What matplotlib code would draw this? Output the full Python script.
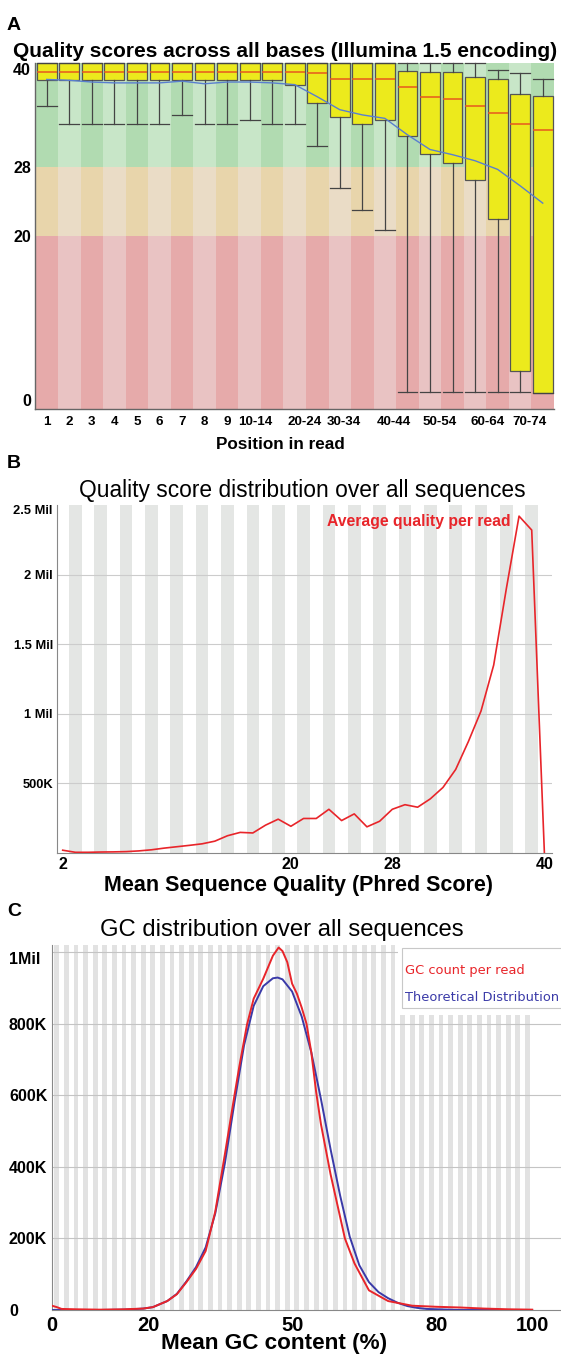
import numpy as np
import matplotlib.pyplot as plt
from matplotlib.patches import Rectangle

plt.rcParams['font.family'] = ['Liberation Sans', 'DejaVu Sans']

W, H = 561, 1355

# --- Panel A: per-base quality boxes ---
base_groups = ['1', '2', '3', '4', '5', '6', '7', '8', '9', '10-14', '15-19',
               '20-24', '25-29', '30-34', '35-39', '40-44', '45-49', '50-54',
               '55-59', '60-64', '65-69', '70-74', '75-76']
shown_groups = ['1', '2', '3', '4', '5', '6', '7', '8', '9', '10-14', '20-24',
                '30-34', '40-44', '50-54', '60-64', '70-74']
# the printed group labels sit a little off the box centres in the original
shown_shift = [0, 0, 0, 0, 0, 0, 0, 0, 0, 0.23, 0.45, 0.18, 0.39, 0.43,
               0.56, 0.42]
q_p90 = [40, 40, 40, 40, 40, 40, 40, 40, 40, 40, 40, 40, 40, 40, 40, 40,
         40, 40, 40, 40, 39.2, 38.8, 38.1]
q_upper = [40, 40, 40, 40, 40, 40, 40, 40, 40, 40, 40, 40, 40, 40, 40, 40,
           39.1, 39.0, 39.0, 38.4, 38.1, 36.4, 36.2]
q_median = [39, 39, 39, 39, 39, 39, 39, 39, 39, 39, 39, 39.0, 38.9, 38.1,
            38.1, 38.1, 37.2, 36.1, 35.8, 35.0, 34.2, 33.0, 32.2]
q_lower = [38, 38, 38, 38, 38, 38, 38, 38, 38, 38, 38, 37.5, 35.4, 33.8,
           33.0, 33.4, 31.6, 29.5, 28.4, 26.5, 22.0, 4.4, 1.9]
q_p10 = [35, 33, 33, 33, 33, 33, 34, 33, 33, 33.4, 33, 33, 30.4, 25.5,
         23.0, 20.7, 2, 2, 2, 2, 2, 2, 1.9]
q_mean = [38.1, 38.0, 37.8, 37.7, 37.7, 37.7, 37.9, 37.6, 37.8, 37.8, 37.7,
          37.5, 36.1, 34.6, 34.0, 33.6, 31.7, 30.0, 29.4, 28.7, 27.7, 25.8, 23.8]

# --- Panel B: mean sequence quality distribution ---
phred = list(range(2, 41))
reads_per_q = [20e3, 5e3, 5e3, 7e3, 8e3, 10e3, 15e3, 23e3, 35e3, 45e3, 55e3,
               66e3, 85e3, 124e3, 148e3, 144e3, 200e3, 243e3, 192e3, 248e3,
               248e3, 314e3, 233e3, 281e3, 188e3, 228e3, 314e3, 347e3, 329e3,
               389e3, 471e3, 600e3, 800e3, 1020e3, 1350e3, 1900e3, 2420e3,
               2320e3, 0]

# --- Panel C: GC content ---
gc_obs_x = [0, 1, 2, 5, 10, 15, 19, 21, 24, 26, 28, 30, 32, 34, 36, 38, 39,
            40.6, 42, 44, 46, 47.2, 48, 49, 50, 51, 52, 53, 54, 55, 56, 58,
            60, 61, 63, 66, 70, 75, 80, 85, 90, 95, 100]
gc_obs = [12e3, 8e3, 3e3, 2e3, 1e3, 2e3, 4e3, 8e3, 25e3, 44e3, 78e3, 115e3,
          165e3, 275e3, 435e3, 600e3, 680e3, 797e3, 870e3, 926e3, 990e3,
          1013e3, 1003e3, 972e3, 912e3, 884e3, 845e3, 800e3, 720e3, 610e3,
          520e3, 380e3, 260e3, 200e3, 130e3, 55e3, 25e3, 12e3, 9e3, 7e3, 4e3,
          2e3, 1e3]
gc_theo_x = [0, 10, 15, 19, 21, 24, 26, 28, 30, 32, 34, 36, 38, 40, 42, 44,
             46, 47, 48, 50, 52, 54, 56, 58, 60, 62, 64, 66, 68, 70, 72, 74,
             76, 78, 85, 100]
gc_theo = [0, 0, 1e3, 4e3, 8e3, 25e3, 45e3, 80e3, 120e3, 175e3, 270e3,
           410e3, 580e3, 740e3, 850e3, 905e3, 927e3, 929e3, 924e3, 890e3,
           820e3, 720e3, 590e3, 450e3, 320e3, 205e3, 125e3, 78e3, 50e3, 33e3,
           20e3, 11e3, 6e3, 3e3, 0, 0]

fig = plt.figure(figsize=(W / 100, H / 100), dpi=100)


def px_axes(left, top, right, bottom):
    return fig.add_axes([left / W, 1 - bottom / H, (right - left) / W, (bottom - top) / H])


def ftext(x, y, s, **kw):
    fig.text(x / W, 1 - y / H, s, **kw)


# ===================== A =====================
axA = px_axes(35, 63, 554, 409)
pos = np.arange(1, len(base_groups) + 1)
zones = [(0, 20, '#e6aaaa', '#e9c3c3'),
         (20, 28, '#e8d5ab', '#eadcc6'),
         (28, 40, '#b1dbb1', '#c8e6c8')]
for i in pos:
    for lo, hi, dark, light in zones:
        axA.add_patch(Rectangle((i - 0.5, lo), 1, hi - lo,
                                color=dark if i % 2 == 1 else light,
                                lw=0, zorder=0))
stats = [dict(med=m, q1=l, q3=u, whislo=w1, whishi=w2)
         for m, l, u, w1, w2 in zip(q_median, q_lower, q_upper, q_p10, q_p90)]
bp = axA.bxp(stats, positions=pos, widths=0.88, capwidths=0.88,
             patch_artist=True, showfliers=False, manage_ticks=False,
             boxprops=dict(facecolor='#ecea1c', edgecolor='#555555', lw=0.9),
             medianprops=dict(color='#e8581e', lw=1.1),
             whiskerprops=dict(color='#444444', lw=0.9),
             capprops=dict(color='#444444', lw=0.9))
for key in ('boxes', 'medians', 'whiskers', 'caps'):
    for art in bp[key]:
        art.set_clip_on(False)
        art.set_zorder(3)
axA.plot(pos, q_mean, color='#5a7fcf', lw=1.0, zorder=4)
axA.set_xlim(0.48, len(base_groups) + 0.5)
axA.set_ylim(0, 40)
axA.set_yticks([0, 20, 28, 40])
axA.set_yticklabels(['0', '20', '28', '40'], fontsize=11.5, fontweight='bold')
ylabs = axA.get_yticklabels()
ylabs[0].set_va('bottom')
ylabs[-1].set_va('top')
tick_pos = [base_groups.index(g) + 1 + d for g, d in zip(shown_groups, shown_shift)]
axA.set_xticks(tick_pos)
axA.set_xticklabels(shown_groups, fontsize=9.6, fontweight='bold')
axA.tick_params(length=0, pad=3)
axA.tick_params(axis='x', pad=5)
for s in ('top', 'right'):
    axA.spines[s].set_visible(False)
for s in ('left', 'bottom'):
    axA.spines[s].set_color('#666666')
    axA.spines[s].set_linewidth(1.0)

ftext(7, 30, 'A', fontsize=14, fontweight='bold', va='baseline')
ftext(285, 57, 'Quality scores across all bases (Illumina 1.5 encoding)',
      fontsize=15.0, fontweight='bold', ha='center', va='baseline')
ftext(280, 449, 'Position in read', fontsize=12.3, fontweight='bold',
      ha='center', va='baseline')

# ===================== B =====================
axB = px_axes(57, 505, 552, 853)
for q in phred:
    if q % 2 == 1:
        axB.axvspan(q - 0.5, q + 0.5, color='#e4e6e4', lw=0, zorder=0)
for yv in [500e3, 1e6, 1.5e6, 2e6]:
    axB.axhline(yv, color='#cccccc', lw=0.8, zorder=1)
axB.plot(phred, reads_per_q, color='#e8252a', lw=1.2, zorder=3)
axB.set_xlim(1.55, 40.6)
axB.set_ylim(0, 2.5e6)
axB.set_xticks([2, 20, 28, 40])
axB.set_xticklabels(['2', '20', '28', '40'], fontsize=11.5, fontweight='bold')
axB.set_yticks([500e3, 1e6, 1.5e6, 2e6, 2.5e6])
axB.set_yticklabels(['500K', '1 Mil', '1.5 Mil', '2 Mil', '2.5 Mil'],
                    fontsize=9.3, fontweight='bold')
axB.get_yticklabels()[-1].set_va('top')
axB.tick_params(length=0, pad=3)
for s in ('top', 'right'):
    axB.spines[s].set_visible(False)
for s in ('left', 'bottom'):
    axB.spines[s].set_color('#888888')
axB.text(37.3, 2.385e6, 'Average quality per read', color='#e8252a',
         fontsize=11.3, fontweight='bold', ha='right', va='center', zorder=4)

ftext(7, 468, 'B', fontsize=14, fontweight='bold', va='baseline')
ftext(302, 497, 'Quality score distribution over all sequences',
      fontsize=16.4, ha='center', va='baseline')
ftext(298, 891, 'Mean Sequence Quality (Phred Score)', fontsize=15.5,
      fontweight='bold', ha='center', va='baseline')

# ===================== C =====================
axC = px_axes(52, 945, 561, 1310)
for g in range(0, 101):
    if g % 2 == 1:
        axC.axvspan(g - 0.5, g + 0.5, color='#e2e2e2', lw=0, zorder=0)
for yv in [200e3, 400e3, 600e3, 800e3, 1e6]:
    axC.axhline(yv, color='#c4c4c4', lw=0.8, zorder=1)
# white area kept free of stripes around the legend box
axC.add_patch(Rectangle((0.68, 0.808), 0.4, 0.2, transform=axC.transAxes,
                        facecolor='white', lw=0, zorder=2, clip_on=False))
axC.add_patch(Rectangle((0.6876, 0.8266), 0.4, 0.166, transform=axC.transAxes,
                        facecolor='white', edgecolor='#c8c8c8', lw=0.8,
                        zorder=2, clip_on=False))
obs_line, = axC.plot(gc_obs_x, gc_obs, color='#e8252a', lw=1.4, zorder=4)
theo_line, = axC.plot(gc_theo_x, gc_theo, color='#3a3aa8', lw=1.4, zorder=3)
axC.text(0.6935, 0.9315, 'GC count per read', transform=axC.transAxes,
         color=obs_line.get_color(), family='DejaVu Sans', fontsize=9.4,
         va='center', zorder=5)
axC.text(0.6935, 0.8556, 'Theoretical Distribution', transform=axC.transAxes,
         color=theo_line.get_color(), family='DejaVu Sans', fontsize=9.4,
         va='center', zorder=5)
axC.set_xlim(0, 106)
axC.set_ylim(0, 1.02e6)
axC.set_xticks([0, 20, 50, 80, 100])
axC.set_xticklabels(['0', '20', '50', '80', '100'], fontsize=14.5,
                    fontweight='bold')
axC.set_yticks([0, 200e3, 400e3, 600e3, 800e3, 1e6])
axC.set_yticklabels(['0', '200K', '400K', '600K', '800K', '1Mil'],
                    fontsize=11.5, fontweight='bold', ha='left')
axC.get_yticklabels()[-1].set_va('top')
axC.tick_params(length=0)
axC.tick_params(axis='y', pad=31)
axC.tick_params(axis='x', pad=4)
for s in ('top', 'right'):
    axC.spines[s].set_visible(False)
for s in ('left', 'bottom'):
    axC.spines[s].set_color('#888888')

ftext(7, 916, 'C', fontsize=14, fontweight='bold', va='baseline')
ftext(282, 936, 'GC distribution over all sequences', fontsize=17.2,
      ha='center', va='baseline')
ftext(274, 1349, 'Mean GC content (%)', fontsize=16.2, fontweight='bold',
      ha='center', va='baseline')

fig.savefig('out.png', dpi=100)
